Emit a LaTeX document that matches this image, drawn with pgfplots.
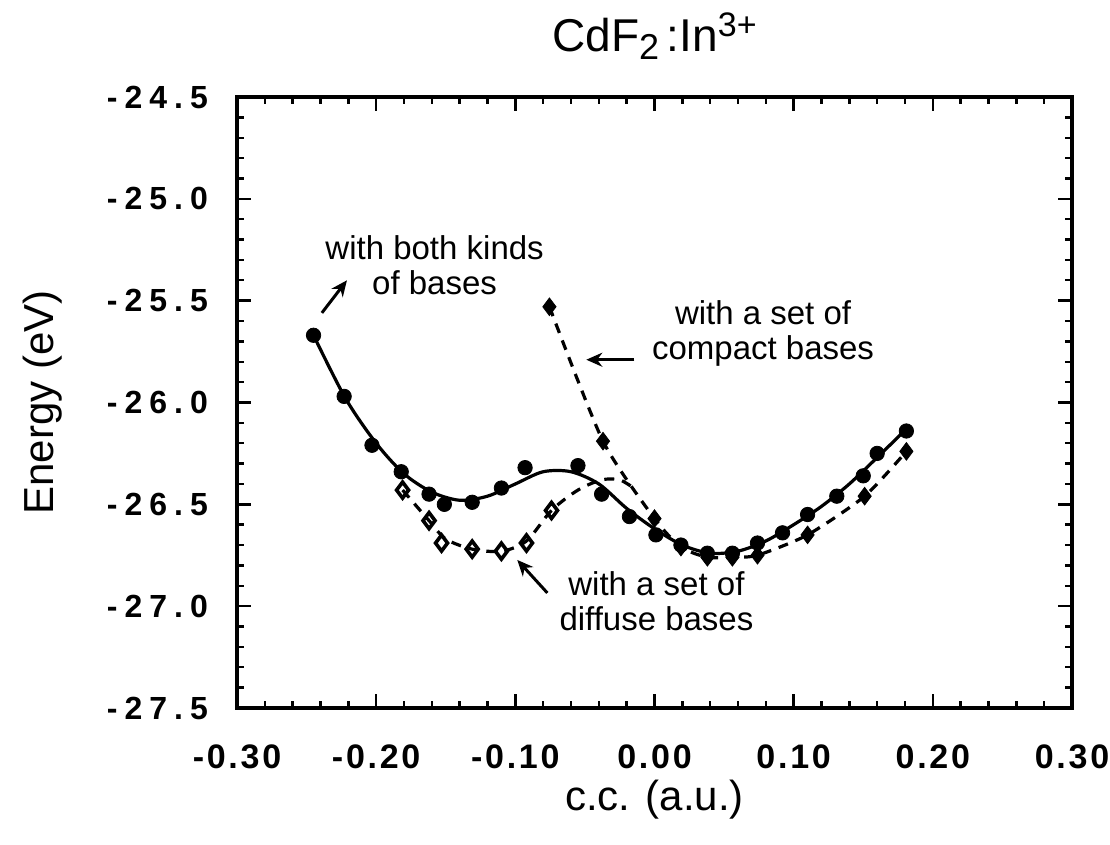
\documentclass[border=0pt]{standalone}
\usepackage{fontspec}
\setmainfont{Liberation Sans}
\newfontfamily\tickfont[LetterSpace=22]{Liberation Sans}
\newfontfamily\xtickfont[LetterSpace=8]{Liberation Sans}
\usepackage{pgfplots}
\pgfplotsset{compat=1.18}
\usepackage{pgfplotstable}
\usetikzlibrary{arrows.meta}

% both kinds of bases (filled circles)
\pgfplotstableread{
x y
-0.245 -25.67
-0.223 -25.97
-0.203 -26.21
-0.182 -26.34
-0.162 -26.45
-0.151 -26.50
-0.131 -26.49
-0.110 -26.42
-0.093 -26.32
-0.055 -26.31
-0.038 -26.45
-0.018 -26.56
0.001 -26.65
0.019 -26.70
0.038 -26.74
0.056 -26.74
0.074 -26.69
0.092 -26.64
0.110 -26.55
0.131 -26.46
0.150 -26.36
0.160 -26.25
0.181 -26.14
}\both

% fitted curve through them
\pgfplotstableread{
x y
-0.245 -25.67
-0.222 -25.98
-0.200 -26.20
-0.180 -26.35
-0.160 -26.44
-0.140 -26.48
-0.120 -26.46
-0.100 -26.40
-0.080 -26.34
-0.060 -26.34
-0.040 -26.40
-0.020 -26.52
0.000 -26.62
0.020 -26.70
0.040 -26.74
0.060 -26.73
0.080 -26.68
0.100 -26.60
0.120 -26.51
0.140 -26.40
0.160 -26.27
0.181 -26.13
}\bothfit

% diffuse bases (open diamonds)
\pgfplotstableread{
x y
-0.181 -26.43
-0.162 -26.58
-0.153 -26.69
-0.131 -26.72
-0.110 -26.73
-0.092 -26.69
-0.074 -26.53
}\diffuse

\pgfplotstableread{
x y
-0.181 -26.43
-0.162 -26.58
-0.150 -26.67
-0.131 -26.72
-0.110 -26.73
-0.092 -26.68
-0.074 -26.53
-0.055 -26.43
-0.038 -26.38
-0.025 -26.38
-0.015 -26.42
}\diffusefit

% compact bases (filled diamonds)
\pgfplotstableread{
x y
-0.0755 -25.53
-0.037 -26.19
0.000 -26.57
0.019 -26.71
0.038 -26.76
0.056 -26.76
0.074 -26.75
0.110 -26.65
0.151 -26.46
0.181 -26.24
}\compact

\begin{document}
\begin{tikzpicture}
\useasboundingbox (-118.5pt,-68.5pt) rectangle (436.5pt,354pt);
\begin{axis}[
  at={(0,0)}, anchor=south west,
  width=417.5pt, height=305.5pt, scale only axis,
  xmin=-0.3, xmax=0.3, ymin=-27.5, ymax=-24.5,
  xtick={-0.3,-0.2,-0.1,0,0.1,0.2,0.3},
  xticklabels={-0.30,-0.20,-0.10,0.00,0.10,0.20,0.30},
  ytick={-27.5,-27,-26.5,-26,-25.5,-25,-24.5},
  yticklabels={-27.5,-27.0,-26.5,-26.0,-25.5,-25.0,-24.5},
  minor x tick num=4, minor y tick num=4,
  tick align=inside,
  major tick length=7pt, minor tick length=3.5pt,
  every tick/.style={line width=1.2pt, black},
  axis line style={line width=2pt},
  xticklabel style={font=\xtickfont\fontsize{17}{19}\selectfont\bfseries, yshift=-15pt},
  yticklabel style={font=\tickfont\fontsize{16}{18}\selectfont\bfseries, xshift=-11pt},
  title={CdF\raisebox{-4pt}{\fontsize{18}{18}\selectfont 2}\,:In\raisebox{8pt}{\fontsize{17}{17}\selectfont 3+}},
  title style={font=\fontsize{23}{25}\selectfont, at={(axis description cs:0.5,1.054)}, anchor=base},
  xlabel={c.c. (a.u.)},
  xlabel style={font=\fontsize{21}{24}\selectfont, at={(axis description cs:0.5,-0.15)}, anchor=center},
  ylabel={Energy (eV)},
  ylabel style={font=\fontsize{21}{24}\selectfont, at={(axis description cs:-0.233,0.5)}, anchor=center, rotate=0},
  clip=false,
]
\addplot[black, line width=1.6pt, smooth, no marks] table {\bothfit};
\addplot[black, line width=1.6pt, smooth, dash pattern=on 5pt off 4pt, no marks] table {\diffusefit};
\addplot[black, line width=1.6pt, smooth, tension=0.4, dash pattern=on 5pt off 4pt, no marks] table {\compact};
\addplot[only marks, mark=*, mark size=3.6pt, black] table {\both};
\addplot[only marks, mark=diamond*, mark size=4.4pt, black] table {\compact};
\addplot[only marks, mark=diamond, mark size=4pt, line width=1.8pt, black, mark options={fill=white}] table {\diffuse};

\node[font=\fontsize{16.5}{17.5}\selectfont, align=center] at (axis cs:-0.158,-25.325) {with both kinds\\of bases};
\draw[line width=1.5pt, -{Stealth[length=8pt,width=7pt]}] (axis cs:-0.239,-25.56) -- (axis cs:-0.221,-25.40);
\node[font=\fontsize{16.5}{17.5}\selectfont, align=center] at (axis cs:0.078,-25.66) {with a set of\\compact bases};
\draw[line width=1.5pt, -{Stealth[length=8pt,width=7pt]}] (axis cs:-0.0144,-25.79) -- (axis cs:-0.049,-25.79);
\node[font=\fontsize{16.5}{17.5}\selectfont, align=center] at (axis cs:0.0014,-26.974) {with a set of\\diffuse bases};
\draw[line width=1.5pt, -{Stealth[length=8pt,width=7pt]}] (axis cs:-0.077,-26.935) -- (axis cs:-0.0986,-26.773);
\end{axis}
\end{tikzpicture}
\end{document}
